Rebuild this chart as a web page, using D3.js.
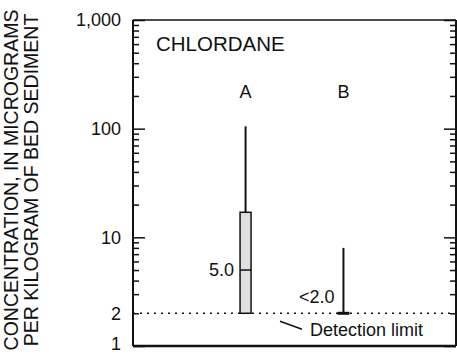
<!DOCTYPE html>
<html>
<head>
<meta charset="utf-8">
<script src="https://cdn.jsdelivr.net/npm/d3@7"></script>
<style>
	body { margin: 0; background: #fff; }
	text { font-family: "Liberation Sans", Arial, sans-serif; fill: #111; }
</style>
</head>
<body>
<svg id="chart" width="457" height="354"></svg>
<script>
// data
const groups = ['A', 'B']
const whiskerTop = [105, 8]
const boxTop = [17, null]
const boxMedian = [5.0, null]
const boxBottom = [2, 2]
const medianLabels = ['5.0', '<2.0']
const detectionLimit = 2
const majorTicks = [1, 10, 100, 1000]
const minorTicks = [2, 3, 4, 5, 6, 7, 8, 9, 20, 30, 40, 50, 60, 70, 80, 90, 200, 300, 400, 500, 600, 700, 800, 900]
const labelTicks = [1, 2, 10, 100, 1000]
const titleLines = ['CONCENTRATION, IN MICROGRAMS', 'PER KILOGRAM OF BED SEDIMENT']

const margin = { top: 20, right: 1, bottom: 8, left: 133 }
const width = 457
const height = 354

const svg = d3.select('#chart')

const x = d3.scalePoint()
	.domain(groups)
	.range([margin.left, width - margin.right])
	.padding(1.15)

const y = d3.scaleLog()
	.domain([1, 1000])
	.range([height - margin.bottom, margin.top])

const xLeft = margin.left
const xRight = width - margin.right
const yTop = margin.top
const yBottom = height - margin.bottom

// ticks on both sides, pointing inward
const tickAxis = (axisFn, vals, size) => axisFn(y).tickValues(vals).tickSize(size).tickFormat('')

function drawAxis(g, axis, sw) {
	g.call(axis)
	g.select('.domain').remove()
	g.selectAll('.tick line').attr('stroke', '#111').attr('stroke-width', sw)
}

svg.append('g').attr('transform', `translate(${xLeft},0)`)
	.call(g => drawAxis(g, tickAxis(d3.axisLeft, minorTicks, -6), 1.5))
svg.append('g').attr('transform', `translate(${xLeft},0)`)
	.call(g => drawAxis(g, tickAxis(d3.axisLeft, majorTicks, -12), 1.5))
svg.append('g').attr('transform', `translate(${xRight},0)`)
	.call(g => drawAxis(g, tickAxis(d3.axisRight, minorTicks, -6), 1.5))
svg.append('g').attr('transform', `translate(${xRight},0)`)
	.call(g => drawAxis(g, tickAxis(d3.axisRight, majorTicks, -12), 1.5))

// tick labels
const labelAxis = d3.axisLeft(y).tickValues(labelTicks).tickSize(0).tickPadding(12).tickFormat(d3.format(','))
svg.append('g')
	.attr('transform', `translate(${xLeft},0)`)
	.call(labelAxis)
	.call(g => g.select('.domain').remove())
	.call(g => g.selectAll('text')
		.attr('font-size', 18)
		.attr('font-family', '"Liberation Sans", Arial, sans-serif')
		.attr('fill', '#111')
		.attr('dy', d => d === 1 ? '0.22em' : '0.32em'))

// frame
svg.append('line').attr('x1', xLeft).attr('x2', xRight).attr('y1', yTop).attr('y2', yTop)
	.attr('stroke', '#111').attr('stroke-width', 1.5)
svg.append('line').attr('x1', xLeft).attr('x2', xRight).attr('y1', yBottom).attr('y2', yBottom)
	.attr('stroke', '#111').attr('stroke-width', 2.5)
svg.append('line').attr('x1', xLeft).attr('x2', xLeft).attr('y1', yTop).attr('y2', yBottom)
	.attr('stroke', '#111').attr('stroke-width', 2)
svg.append('line').attr('x1', xRight).attr('x2', xRight).attr('y1', yTop).attr('y2', yBottom)
	.attr('stroke', '#111').attr('stroke-width', 2)

// detection limit
svg.append('line')
	.attr('x1', xLeft).attr('x2', xRight)
	.attr('y1', y(detectionLimit)).attr('y2', y(detectionLimit))
	.attr('stroke', '#111').attr('stroke-width', 1.5)
	.attr('stroke-dasharray', '2,5')

// y title
svg.append('g')
	.attr('transform', `translate(0,180) rotate(-90)`)
	.selectAll('text')
	.data(titleLines)
	.join('text')
	.attr('x', 0)
	.attr('y', (d, i) => 18 + i * 20)
	.attr('text-anchor', 'middle')
	.attr('font-size', 19.5)
	.text(d => d)

svg.append('text')
	.attr('x', 156).attr('y', 51)
	.attr('font-size', 20.5)
	.text('CHLORDANE')

// group labels
svg.selectAll('.glabel')
	.data(groups)
	.join('text')
	.attr('class', 'glabel')
	.attr('x', d => x(d))
	.attr('y', 98)
	.attr('text-anchor', 'middle')
	.attr('font-size', 18)
	.text(d => d)

// boxes
const boxW = 11
groups.forEach((g, i) => {
	const cx = x(g)
	const lo = boxTop[i] != null ? boxTop[i] : boxBottom[i]
	svg.append('line')
		.attr('x1', cx).attr('x2', cx)
		.attr('y1', y(whiskerTop[i])).attr('y2', y(lo))
		.attr('stroke', '#111').attr('stroke-width', 2)
	if (boxTop[i] != null) {
		svg.append('rect')
			.attr('x', cx - boxW / 2).attr('width', boxW)
			.attr('y', y(boxTop[i])).attr('height', y(boxBottom[i]) - y(boxTop[i]))
			.attr('fill', '#e0e0e0').attr('stroke', '#111').attr('stroke-width', 1.5)
		svg.append('line')
			.attr('x1', cx - boxW / 2).attr('x2', cx + boxW / 2)
			.attr('y1', y(boxMedian[i])).attr('y2', y(boxMedian[i]))
			.attr('stroke', '#111').attr('stroke-width', 1.5)
		svg.append('text')
			.attr('x', cx - boxW / 2 - 6).attr('y', y(boxMedian[i]))
			.attr('dy', '0.35em')
			.attr('text-anchor', 'end')
			.attr('font-size', 18)
			.text(medianLabels[i])
	} else {
		svg.append('line')
			.attr('x1', cx - 6).attr('x2', cx + 6)
			.attr('y1', y(boxBottom[i])).attr('y2', y(boxBottom[i]))
			.attr('stroke', '#111').attr('stroke-width', 3)
		svg.append('text')
			.attr('x', cx - 9).attr('y', y(boxBottom[i]) - 10)
			.attr('text-anchor', 'end')
			.attr('font-size', 18)
			.text(medianLabels[i])
	}
})

// detection limit callout
svg.append('line')
	.attr('x1', 280).attr('y1', y(detectionLimit) + 8)
	.attr('x2', 302).attr('y2', y(detectionLimit) + 16)
	.attr('stroke', '#111').attr('stroke-width', 1.5)
svg.append('text')
	.attr('x', 310).attr('y', y(detectionLimit) + 23)
	.attr('font-size', 18)
	.text('Detection limit')
</script>
</body>
</html>
